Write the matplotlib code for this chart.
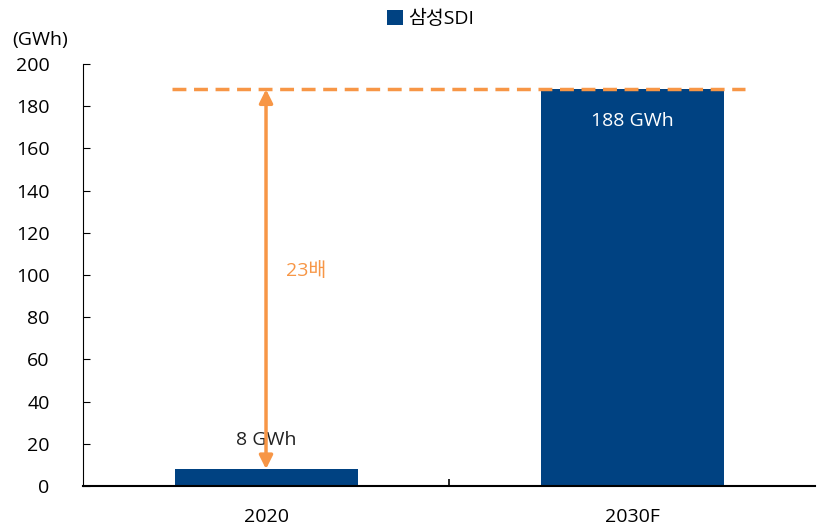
import matplotlib
matplotlib.use("Agg")
import matplotlib.pyplot as plt

plt.rcParams['font.family'] = ['Open Sans', 'Noto Sans CJK KR', 'DejaVu Sans']

categories = ['2020', '2030F']
capacity = [8, 188]
value_labels = ['8 GWh', '188 GWh']
series_name = '삼성SDI'
ratio_label = '23배'

bar_color = '#004282'
orange = '#F79646'
fs = 14

fig = plt.figure(figsize=(8.17, 5.29), dpi=100)
ax = fig.add_axes([0.1016, 0.0813, 0.8960, 0.7977])

x = range(len(categories))
ax.bar(x, capacity, width=0.5, color=bar_color, label=series_name)

# value labels
ax.text(0, capacity[0] + 14, value_labels[0], ha='center', va='center', fontsize=fs, color='#222222')
ax.text(1, capacity[1] - 15, value_labels[1], ha='center', va='center', fontsize=fs, color='white')

# target line and arrow
ax.plot([-0.257, 1.31], [capacity[1], capacity[1]], color=orange, lw=2.5, ls=(0, (4, 2.2)))
ax.annotate('', xy=(0, capacity[1]), xytext=(0, capacity[0]),
            arrowprops=dict(arrowstyle='<|-|>', color=orange, lw=2.5,
                            mutation_scale=20, shrinkA=0, shrinkB=0))
ax.text(0.055, 102, ratio_label, ha='left', va='center', fontsize=fs, color=orange)

ax.set_xlim(-0.5, 1.5)
ax.set_ylim(0, 200)
ax.set_yticks(range(0, 201, 20))
ax.set_xticks([0.5], minor=True)
ax.set_xticks(list(x))
ax.set_xticklabels(categories)
ax.tick_params(axis='x', which='major', length=0, labelsize=fs, pad=16)
ax.tick_params(axis='x', which='minor', direction='in', length=5, width=1.2)
ax.tick_params(axis='y', direction='in', length=5, labelsize=fs, pad=24)

for s in ['top', 'right']:
    ax.spines[s].set_visible(False)
ax.spines['left'].set_linewidth(0.8)
ax.spines['bottom'].set_linewidth(1.5)

fig.text(0.049, 0.925, '(GWh)', ha='center', va='center', fontsize=fs)

ax.legend(loc='upper center', bbox_to_anchor=(0.475, 1.17), frameon=False,
          fontsize=fs, handlelength=0.8, handleheight=0.8, handletextpad=0.3)

fig.savefig('out.png', dpi=100)
